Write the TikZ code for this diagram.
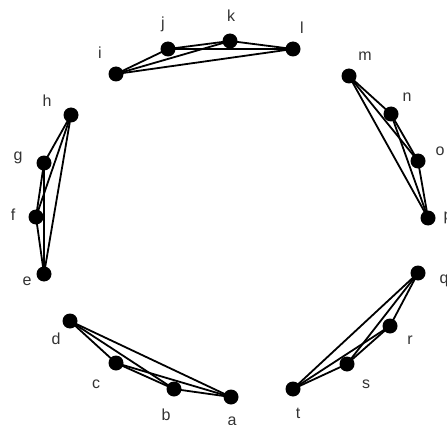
\documentclass[tikz,border=0pt]{standalone}
\usepackage{fontspec}
\setmainfont{Liberation Sans}
\begin{document}
\begin{tikzpicture}[x=1pt,y=-1pt,
  dot/.style={circle,fill=black,inner sep=0pt,minimum size=15pt},
  lbl/.style={font=\fontsize{16}{16}\selectfont,text=black!80,inner sep=0pt},
  edge/.style={line width=1.8pt}]
\useasboundingbox (0,0) rectangle (447,425);
\foreach \n/\x/\y/\lx/\ly in {a/231/397/232/421, b/174/389/166/415, c/116/363/96/384, d/70/321/56/339,
  e/44/274/27/281, f/36/217/13/215, g/44/163/18/158, h/71/115/47/101,
  i/116/74/100/53, j/168/49/163/24, k/230/41/231/16, l/293/49/302/28,
  m/349/76/365/56, n/391/114/407/97, o/418/161/440/151, p/428/218/448/218,
  q/418/273/444/281, r/390/326/410/340, s/347/364/366/384, t/293/389/298/413}
{
  \node[dot] (\n) at (\x,\y) {};
  \node[lbl] (L\n) at (\lx,\ly) {\n};
}
\foreach \g in {{a,b,c,d},{e,f,g,h},{i,j,k,l},{m,n,o,p},{q,r,s,t}}{
  \foreach [count=\i] \u in \g {
    \foreach [count=\j] \v in \g {
      \ifnum\i<\j \draw[edge] (\u.center) -- (\v.center); \fi
    }
  }
}
\end{tikzpicture}
\end{document}
